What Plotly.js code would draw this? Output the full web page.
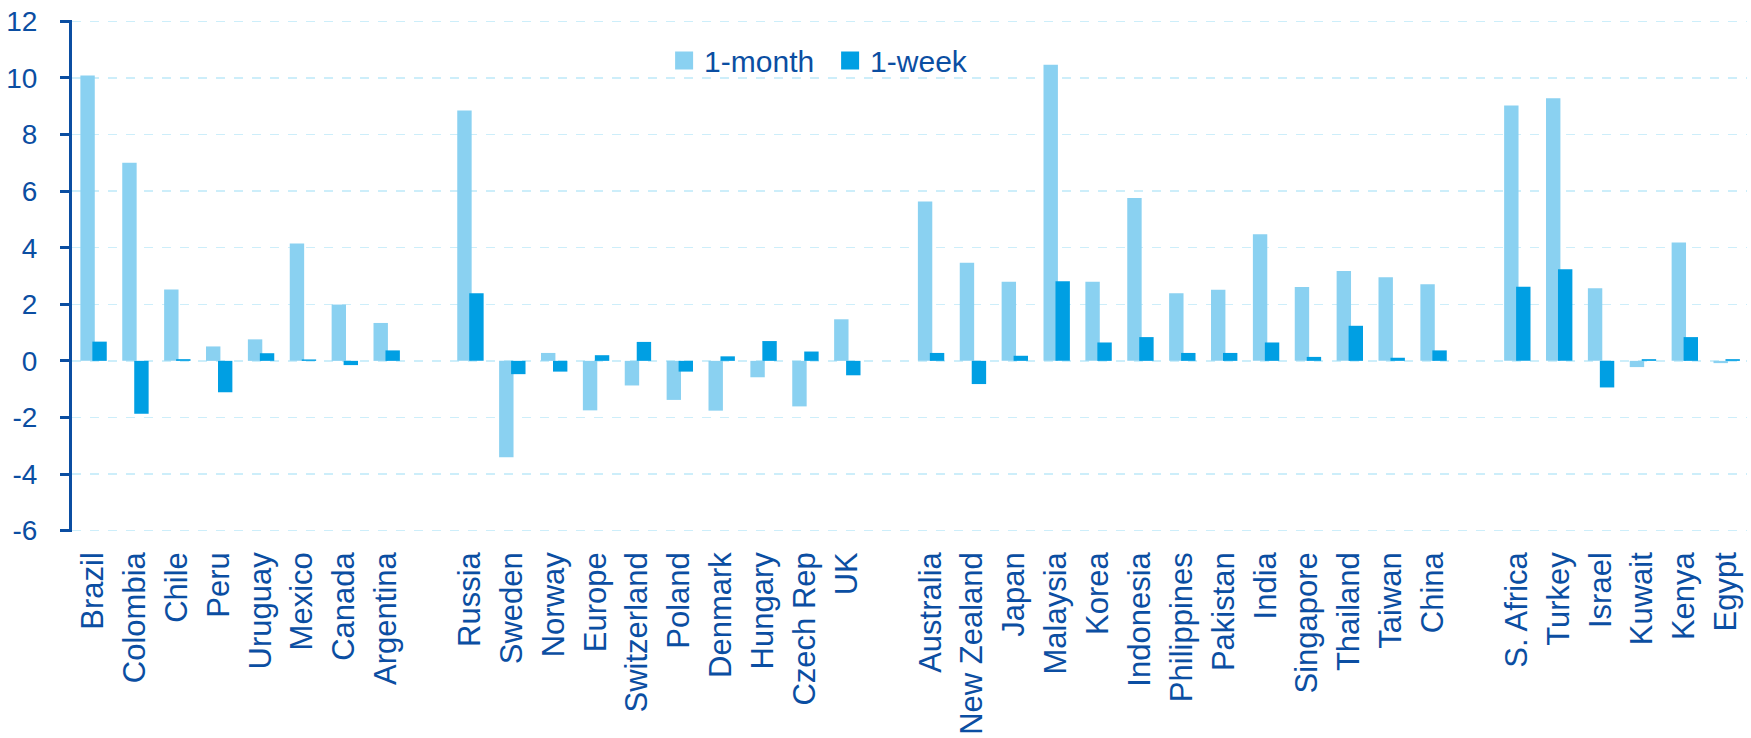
<!DOCTYPE html>
<html>
<head>
<meta charset="utf-8">
<script src="https://cdn.plot.ly/plotly-3.0.1.min.js"></script>
<style>
  html, body { margin: 0; padding: 0; background: #ffffff; }
  #chart { width: 1751px; height: 738px; }
</style>
</head>
<body>
<div id="chart"></div>
<script>
// Categories (blank entries are the gaps between regional groups)
const categories = [
  'Brazil','Colombia','Chile','Peru','Uruguay','Mexico','Canada','Argentina',
  ' ',
  'Russia','Sweden','Norway','Europe','Switzerland','Poland','Denmark','Hungary','Czech Rep','UK',
  '  ',
  'Australia','New Zealand','Japan','Malaysia','Korea','Indonesia','Philippines','Pakistan','India','Singapore','Thailand','Taiwan','China',
  '   ',
  'S. Africa','Turkey','Israel','Kuwait','Kenya','Egypt'
];

const oneMonth = [
  10.09, 7.00, 2.52, 0.51, 0.76, 4.15, 1.99, 1.34,
  null,
  8.85, -3.41, 0.28, -1.75, -0.87, -1.38, -1.76, -0.58, -1.61, 1.47,
  null,
  5.63, 3.47, 2.80, 10.47, 2.80, 5.76, 2.39, 2.51, 4.48, 2.61, 3.18, 2.96, 2.71,
  null,
  9.03, 9.28, 2.57, -0.22, 4.18, -0.08
];

const oneWeek = [
  0.68, -1.87, 0.06, -1.11, 0.27, 0.05, -0.15, 0.37,
  null,
  2.39, -0.47, -0.38, 0.20, 0.67, -0.38, 0.16, 0.70, 0.33, -0.51,
  null,
  0.28, -0.82, 0.18, 2.81, 0.65, 0.84, 0.28, 0.28, 0.65, 0.14, 1.24, 0.11, 0.37,
  null,
  2.62, 3.24, -0.94, 0.06, 0.84, 0.06
];

const seriesNames = ['1-month', '1-week'];
const yTicks = [-6, -4, -2, 0, 2, 4, 6, 8, 10, 12];
const yRange = [-6.05, 12.05];

const navy = '#0b4ea2';
const lightBlue = '#8ad1f1';
const midBlue = '#009fe3';
const fontFam = '"Liberation Sans", Arial, Helvetica, sans-serif';
const seriesColors = [lightBlue, midBlue];

const traces = [
  {
    type: 'bar', name: seriesNames[0], x: categories, y: oneMonth,
    marker: { color: lightBlue, line: { width: 0 } },
    width: 0.344, offset: -0.30, showlegend: false, hoverinfo: 'x+y'
  },
  {
    type: 'bar', name: seriesNames[1], x: categories, y: oneWeek,
    marker: { color: midBlue, line: { width: 0 } },
    width: 0.344, offset: -0.014, showlegend: false, hoverinfo: 'x+y'
  }
];

// legend-only entries with larger square swatches
seriesNames.forEach((nm, i) => {
  traces.push({
    type: 'scatter', mode: 'markers', name: nm,
    x: [null], y: [null],
    marker: { symbol: 'square', size: 16, color: seriesColors[i],
              line: { width: 2, color: seriesColors[i] } },
    showlegend: true, hoverinfo: 'skip'
  });
});

const nCat = categories.length;

const layout = {
  width: 1751, height: 738,
  margin: { l: 72, r: 4, t: 20, b: 206 },
  paper_bgcolor: '#ffffff', plot_bgcolor: '#ffffff',
  barmode: 'overlay',
  font: { family: fontFam, color: navy, size: 30 },
  showlegend: true,
  legend: {
    orientation: 'h', x: 0.3535, xanchor: 'left', y: 0.921, yanchor: 'middle',
    font: { family: fontFam, size: 30, color: navy },
    bgcolor: 'rgba(0,0,0,0)', borderwidth: 0,
    entrywidth: 121, entrywidthmode: 'pixels',
    itemsizing: 'trace',
    traceorder: 'normal'
  },
  xaxis: {
    type: 'category',
    categoryorder: 'array', categoryarray: categories,
    range: [-0.5, nCat - 0.5],
    showline: false, showgrid: false, zeroline: false,
    ticks: '', tickangle: -90,
    tickfont: { family: fontFam, size: 31, color: navy },
    ticklabelstandoff: 13,
    fixedrange: true
  },
  xaxis2: {
    type: 'linear', overlaying: 'x', anchor: 'free',
    position: (0 - yRange[0]) / (yRange[1] - yRange[0]),
    range: [-0.5, nCat - 0.5],
    tickmode: 'linear', tick0: -0.5, dtick: 1,
    showticklabels: false, showgrid: false, zeroline: false,
    showline: true, linecolor: navy, linewidth: 3,
    ticks: 'outside', ticklen: 9, tickwidth: 3, tickcolor: navy,
    fixedrange: true
  },
  yaxis: {
    range: yRange, tickmode: 'array', tickvals: yTicks,
    ticktext: yTicks.map(String),
    showline: true, linecolor: navy, linewidth: 3,
    ticks: 'outside', ticklen: 9, tickwidth: 3, tickcolor: navy,
    showgrid: true, gridcolor: '#cdeefa', gridwidth: 1.5, griddash: 'dash',
    zeroline: false,
    tickfont: { family: fontFam, size: 28, color: navy },
    ticklabelstandoff: 17,
    fixedrange: true
  }
};

Plotly.newPlot('chart', traces, layout, { displayModeBar: false, staticPlot: true });
</script>
</body>
</html>
